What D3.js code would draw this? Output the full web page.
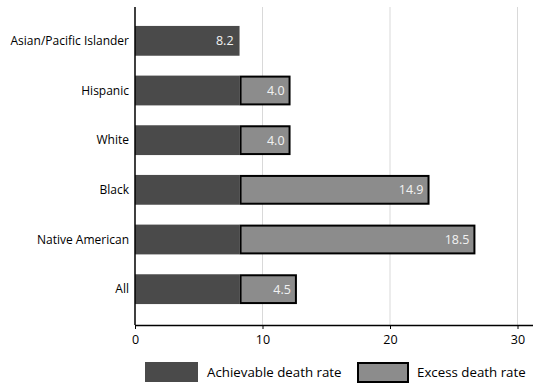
<!DOCTYPE html>
<html>
<head>
<meta charset="utf-8">
<script src="https://cdn.jsdelivr.net/npm/d3@7"></script>
<style>
  body { margin: 0; background: #fff; }
  text { font-family: "Open Sans", "Noto Sans", sans-serif; }
</style>
</head>
<body>
<div id="chart"></div>
<script>
const groups = ["Asian/Pacific Islander", "Hispanic", "White", "Black", "Native American", "All"];
const achievable = [8.2, 8.2, 8.2, 8.2, 8.2, 8.2];
const excess = [0, 4.0, 4.0, 14.9, 18.5, 4.5];
const xTicks = [0, 10, 20, 30];
const seriesNames = ["Achievable death rate", "Excess death rate"];

const W = 538, H = 384;
const dark = "#4a4a4a", light = "#8c8c8c";

const svg = d3.select("#chart").append("svg")
  .attr("width", W).attr("height", H);

const x = d3.scaleLinear().domain([0, (530 - 135) / 12.75]).range([135, 530]);

const y = d3.scaleBand()
  .domain(groups)
  .range([16, 314])
  .paddingInner(0.4)
  .paddingOuter(0.2);

const data = groups.map((g, i) => ({ g, a: achievable[i], e: excess[i] }));

// gridlines
svg.append("g").selectAll("line")
  .data(xTicks.filter(d => d > 0))
  .enter().append("line")
  .attr("x1", d => x(d)).attr("x2", d => x(d))
  .attr("y1", 7).attr("y2", 325)
  .attr("stroke", "#d9d9d9").attr("stroke-width", 1);

// achievable bars
svg.append("g").selectAll("rect")
  .data(data)
  .enter().append("rect")
  .attr("x", x(0))
  .attr("y", d => y(d.g))
  .attr("width", d => x(d.a) - x(0))
  .attr("height", y.bandwidth())
  .attr("fill", dark);

// excess bars
svg.append("g").selectAll("rect")
  .data(data.filter(d => d.e > 0))
  .enter().append("rect")
  .attr("x", d => x(d.a) + 1)
  .attr("y", d => y(d.g) + 1)
  .attr("width", d => x(d.a + d.e) - x(d.a) - 2)
  .attr("height", y.bandwidth() - 2)
  .attr("fill", light)
  .attr("stroke", "#000")
  .attr("stroke-width", 2);

// value labels
svg.append("g").selectAll("text")
  .data(data)
  .enter().append("text")
  .attr("x", d => x(d.a + d.e) - 6)
  .attr("y", d => y(d.g) + y.bandwidth() / 2)
  .attr("dy", "0.35em")
  .attr("text-anchor", "end")
  .attr("fill", "#f2f2f2")
  .style("font-size", "12.5px")
  .text(d => (d.e > 0 ? d.e : d.a).toFixed(1));

// y axis
svg.append("line")
  .attr("x1", x(0)).attr("x2", x(0))
  .attr("y1", 7).attr("y2", 325)
  .attr("stroke", "#000").attr("stroke-width", 1.5);

svg.append("g").selectAll("text")
  .data(groups)
  .enter().append("text")
  .attr("x", 129)
  .attr("y", d => y(d) + y.bandwidth() / 2)
  .attr("dy", "0.35em")
  .attr("text-anchor", "end")
  .attr("fill", "#000")
  .style("font-size", "12px")
  .text(d => d);

// x axis
const xAxis = svg.append("g")
  .attr("transform", "translate(0,325)")
  .call(d3.axisBottom(x).tickValues(xTicks).tickSize(4).tickSizeOuter(0).tickPadding(6));
xAxis.select(".domain").attr("d", `M${x(0)},0.5H533`).attr("stroke", "#000").attr("stroke-width", 1.5);
xAxis.selectAll(".tick line").attr("stroke", "#000");
xAxis.selectAll(".tick text")
  .style("font-family", "'Open Sans', 'Noto Sans', sans-serif")
  .style("font-size", "12.5px")
  .attr("fill", "#000");

// legend
const legend = svg.append("g");
legend.append("rect")
  .attr("x", 145).attr("y", 362).attr("width", 53).attr("height", 20)
  .attr("fill", dark);
legend.append("text")
  .attr("x", 207).attr("y", 372).attr("dy", "0.35em")
  .style("font-size", "13.3px").attr("fill", "#000")
  .text(seriesNames[0]);
legend.append("rect")
  .attr("x", 358).attr("y", 363).attr("width", 50).attr("height", 19)
  .attr("fill", light).attr("stroke", "#000").attr("stroke-width", 2);
legend.append("text")
  .attr("x", 417).attr("y", 372).attr("dy", "0.35em")
  .style("font-size", "13.3px").attr("fill", "#000")
  .text(seriesNames[1]);
</script>
</body>
</html>
